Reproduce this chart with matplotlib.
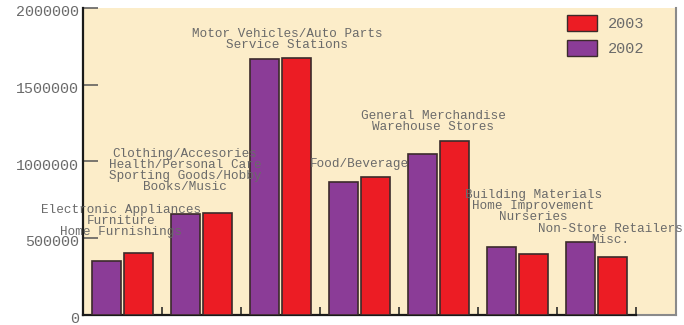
import matplotlib
matplotlib.use("Agg")
import matplotlib.pyplot as plt
import matplotlib.transforms as mtransforms
from matplotlib.patches import Patch
import numpy as np

# ---- data ----
categories = [
    ["Electronic Appliances", "Furniture", "Home Furnishings"],
    ["Clothing/Accesories", "Health/Personal Care", "Sporting Goods/Hobby", "Books/Music"],
    ["Motor Vehicles/Auto Parts", "Service Stations"],
    ["Food/Beverage"],
    ["General Merchandise", "Warehouse Stores"],
    ["Building Materials", "Home Improvement", "Nurseries"],
    ["Non-Store Retailers", "Misc."],
]
sales_2002 = [351000, 656000, 1667000, 867000, 1045000, 440000, 473000]
sales_2003 = [399000, 662000, 1676000, 895000, 1134000, 395000, 375000]
series_names = ["2003", "2002"]
yticks = [0, 500000, 1000000, 1500000, 2000000]

# ---- layout (label anchors: x offset from group centre, top line y) ----
label_dx = [-0.02, -0.21, 0.08, 0.0, -0.07, 0.20, 0.18]
label_top = [685000, 1050000, 1830000, 982000, 1295000, 780000, 558000]
line_step = 73000

PURPLE = "#8b3c97"
RED = "#ec1c24"
BEIGE = "#fcedc9"
EDGE = "#3b2b2b"
TXT = "#6a6a6a"
MONO = "Liberation Mono"

fig = plt.figure(figsize=(6.84, 3.25), dpi=100)
fig.patch.set_facecolor("white")
ax = fig.add_axes([83/684, 10.5/325, (676-83)/684, (314.5-8)/325])
ax.set_facecolor(BEIGE)

n = len(sales_2002)
idx = np.arange(n)
w = 29/79
ax.bar(idx + (9 + 14.5)/79, sales_2002, width=w, color=PURPLE, edgecolor=EDGE, linewidth=1.2, zorder=3)
ax.bar(idx + (41 + 14.5)/79, sales_2003, width=w, color=RED, edgecolor=EDGE, linewidth=1.2, zorder=3)

ax.set_xlim(0, (676-83)/79)
ax.set_ylim(0, 2000000)

ax.spines["top"].set_visible(False)
ax.spines["left"].set_color("#1a1a1a")
ax.spines["left"].set_linewidth(1.6)
ax.spines["bottom"].set_color("#1a1a1a")
ax.spines["bottom"].set_linewidth(1.6)
ax.spines["bottom"].set_bounds(0, n)
ax.spines["right"].set_color("#8a8a8a")
ax.spines["right"].set_linewidth(1.5)
ax.axhline(0, xmin=n/((676-83)/79), xmax=1, color="#8a8a8a", lw=1.5, zorder=2, clip_on=False)

ax.set_yticks(yticks)
ax.set_yticklabels([str(v) for v in yticks], family=MONO, fontsize=10.8, color=TXT)
ax.tick_params(axis="y", direction="in", length=10.5, width=1.1, color="#555555", pad=3)
offset = mtransforms.ScaledTranslation(0, -2/72, fig.dpi_scale_trans)
for lab in ax.get_yticklabels():
    lab.set_transform(lab.get_transform() + offset)

ax.set_xticks(np.arange(1, n + 1))
ax.set_xticklabels([])
ax.tick_params(axis="x", direction="in", length=5.5, width=1.1, color="#1a1a1a")

for i, lines in enumerate(categories):
    for j, line in enumerate(lines):
        ax.text(i + 0.5 + label_dx[i], label_top[i] - j*line_step, line,
                family=MONO, fontsize=9.1, color=TXT, ha="center", va="center",
                zorder=4, clip_on=False)

handles = [Patch(facecolor=RED, edgecolor=EDGE, linewidth=1.0),
           Patch(facecolor=PURPLE, edgecolor=EDGE, linewidth=1.0)]
leg = fig.legend(handles, series_names, loc="upper left",
                 bbox_to_anchor=(567/684, 1 - 15/325), bbox_transform=fig.transFigure,
                 frameon=False, borderpad=0, borderaxespad=0,
                 prop={"family": MONO, "size": 11.0},
                 handlelength=1.95, handleheight=1.28, labelspacing=0.55, handletextpad=0.74)
for t in leg.get_texts():
    t.set_color(TXT)

fig.savefig("out.png", dpi=100)
